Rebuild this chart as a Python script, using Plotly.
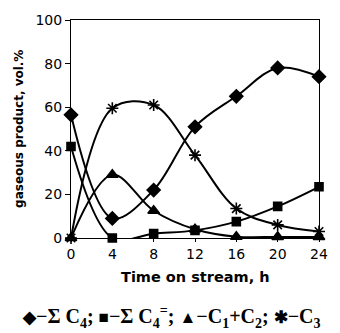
import plotly.graph_objects as go

time_h = [0, 4, 8, 12, 16, 20, 24]
sum_c4 = [56.5, 9, 22, 51, 65, 78, 74]
sum_c4_ene = [42, 0, 2, 3.5, 7.5, 14.5, 23.5]
c1_c2 = [0, 29, 12.5, 4, 0.6, 0.5, 0.5]
c3 = [0, 59.5, 61, 38, 13.5, 6, 3]

series = [
    ("ΣC4", sum_c4, "diamond", 10),
    ("ΣC4=", sum_c4_ene, "square", 8),
    ("C1+C2", c1_c2, "triangle-up", 10),
    ("C3", c3, "asterisk-open", 10),
]

fig = go.Figure()
for name, vals, sym, sz in series:
    fig.add_trace(go.Scatter(
        x=time_h, y=vals, name=name, mode="lines+markers",
        line=dict(color="black", width=2, shape="spline", smoothing=1),
        marker=dict(symbol=sym, size=sz, color="black",
                    line=dict(color="black", width=1.6)),
        cliponaxis=False,
    ))

tick_font = dict(family="DejaVu Sans", size=14, color="black")
fig.update_layout(
    width=340, height=333,
    margin=dict(l=71, r=13, t=17, b=95),
    paper_bgcolor="white", plot_bgcolor="white",
    showlegend=False,
    font=dict(family="DejaVu Sans", color="black", size=14),
)
fig.update_xaxes(
    range=[0, 24], tickvals=[0, 4, 8, 12, 16, 20, 24],
    showline=True, linecolor="black", linewidth=1, mirror=True,
    ticks="outside", ticklen=3, tickcolor="black",
    showgrid=False, zeroline=False, tickfont=tick_font,
)
fig.update_yaxes(
    range=[0, 100], tickvals=[0, 20, 40, 60, 80, 100],
    showline=True, linecolor="black", linewidth=1, mirror=True,
    ticks="outside", ticklen=5, tickcolor="black",
    showgrid=False, zeroline=False, tickfont=tick_font,
)
fig.add_annotation(
    text="<b>Time on stream, h</b>", xref="paper", yref="paper",
    x=0.5, y=-0.181, yanchor="middle", showarrow=False,
    font=dict(size=14.5, family="DejaVu Sans"),
)
fig.add_annotation(
    text="<b>gaseous product, vol.%</b>", xref="paper", yref="paper",
    x=-0.21, y=0.5, textangle=-90, showarrow=False, xanchor="center",
    font=dict(size=12, family="DejaVu Sans"),
)
sym = lambda s: '<span style="font-size:17px">' + s + '</span>'
fig.add_annotation(
    text="<b>" + sym("◆") + "−Σ C<sub>4</sub>; " + sym("■") + "−Σ C<sub>4</sub><sup>=</sup>; "
         + sym("▲") + "−C<sub>1</sub>+C<sub>2</sub>; " + sym("✱") + "−C<sub>3</sub></b>",
    xref="paper", yref="paper", x=0.405, y=-0.362, yanchor="middle", showarrow=False,
    font=dict(size=20, family="Liberation Serif, Times New Roman"),
)
fig.write_html("out.html")
